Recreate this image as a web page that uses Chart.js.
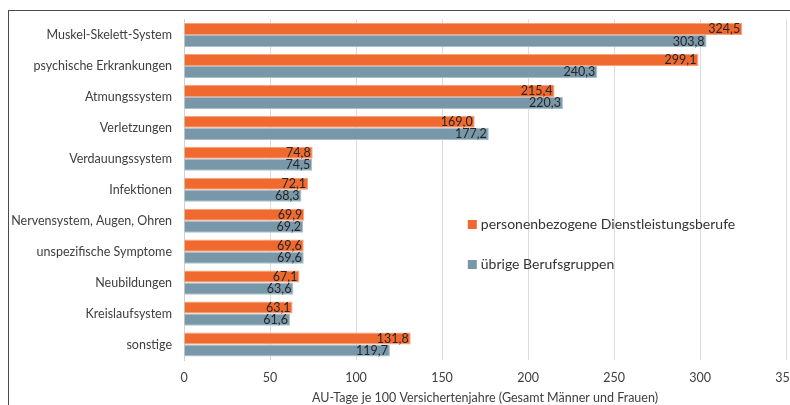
<!DOCTYPE html>
<html>
<head>
<meta charset="utf-8">
<script src="https://cdn.jsdelivr.net/npm/chart.js@4"></script>
<style>
  html, body { margin: 0; padding: 0; background: #fff; overflow: hidden; }
  #wrap { position: relative; width: 790px; height: 405px; overflow: hidden; }
  #frame { position: absolute; left: 8px; top: 10px; width: 820px; height: 420px;
           border: 1.5px solid #4a4a4a; box-sizing: border-box; }
  #chart { position: absolute; left: 0; top: 0; }
</style>
</head>
<body>
<div id="wrap">
  <div id="frame"></div>
  <canvas id="chart" width="810" height="405"></canvas>
</div>
<script>
/* ===================================
   DATA
   =================================== */
const categories = [
  "Muskel-Skelett-System", "psychische Erkrankungen", "Atmungssystem", "Verletzungen",
  "Verdauungssystem", "Infektionen", "Nervensystem, Augen, Ohren", "unspezifische Symptome",
  "Neubildungen", "Kreislaufsystem", "sonstige"
];
const personenbezogen = [324.5, 299.1, 215.4, 169.0, 74.8, 72.1, 69.9, 69.6, 67.1, 63.1, 131.8];
const uebrige = [303.8, 240.3, 220.3, 177.2, 74.5, 68.3, 69.2, 69.6, 63.6, 61.6, 119.7];
const seriesNames = ["personenbezogene Dienstleistungsberufe", "übrige Berufsgruppen"];
const xTicks = [0, 50, 100, 150, 200, 250, 300, 350];

const ORANGE = "#f06a2f";
const BLUE = "#7898aa";
const FONT = "Lato, 'Open Sans', sans-serif";

/**
 * Value labels drawn inside the bar end (German decimal comma)
 */
const valueLabels = {
  id: "valueLabels",
  afterDatasetsDraw(chart) {
    const ctx = chart.ctx;
    ctx.save();
    ctx.font = "12.5px " + FONT;
    ctx.fillStyle = "#262626";
    ctx.textAlign = "right";
    ctx.textBaseline = "middle";
    chart.data.datasets.forEach((ds, di) => {
      chart.getDatasetMeta(di).data.forEach((bar, i) => {
        const txt = ds.data[i].toFixed(1).replace(".", ",");
        ctx.fillText(txt, bar.x - 2, bar.y + 0.5);
      });
    });
    ctx.restore();
  }
};

/**
 * Legend placed inside the plot area, lower right
 */
const innerLegend = {
  id: "innerLegend",
  afterDraw(chart) {
    const ctx = chart.ctx;
    const area = chart.chartArea;
    const x = chart.scales.x.getPixelForValue(165);
    const ys = [area.top + 205, area.top + 245];
    ctx.save();
    ctx.font = "14px " + FONT;
    ctx.textBaseline = "middle";
    ctx.textAlign = "left";
    chart.data.datasets.forEach((ds, i) => {
      ctx.fillStyle = ds.backgroundColor;
      ctx.fillRect(x, ys[i] - 4.5, 9, 9);
      ctx.fillStyle = "#333";
      ctx.fillText(ds.label, x + 13, ys[i]);
    });
    ctx.restore();
  }
};

new Chart(document.getElementById("chart"), {
  type: "bar",
  data: {
    labels: categories,
    datasets: [
      { label: seriesNames[0], data: personenbezogen, backgroundColor: ORANGE,
        borderColor: "#f7a27c", borderWidth: 1 },
      { label: seriesNames[1], data: uebrige, backgroundColor: BLUE,
        borderColor: "#a9bfcb", borderWidth: 1 },
    ],
  },
  options: {
    indexAxis: "y",
    responsive: false,
    animation: false,
    categoryPercentage: 0.78,
    barPercentage: 1.0,
    layout: { padding: { top: 16, right: 24, left: 0, bottom: 0 } },
    plugins: {
      legend: { display: false },
      tooltip: { enabled: false },
    },
    scales: {
      x: {
        min: 0,
        max: 350,
        afterBuildTicks: (s) => { s.ticks = xTicks.map(v => ({ value: v })); },
        afterFit: (s) => { s.height = 45; },
        ticks: { color: "#404040", font: { family: FONT, size: 12.5 }, padding: 10 },
        grid: { color: "#dcdcdc", drawTicks: false },
        border: { display: false },
        title: {
          display: true,
          text: "AU-Tage je 100 Versichertenjahre (Gesamt Männer und Frauen)",
          color: "#404040",
          font: { family: FONT, size: 12.5 },
          padding: { top: 4, bottom: 0 },
        },
      },
      y: {
        afterFit: (s) => { s.width = 184; },
        ticks: { color: "#404040", font: { family: FONT, size: 12.5 }, padding: 12 },
        grid: { display: false, drawTicks: false },
        border: { color: "#d0d0d0" },
      },
    },
  },
  plugins: [valueLabels, innerLegend],
});
</script>
</body>
</html>
